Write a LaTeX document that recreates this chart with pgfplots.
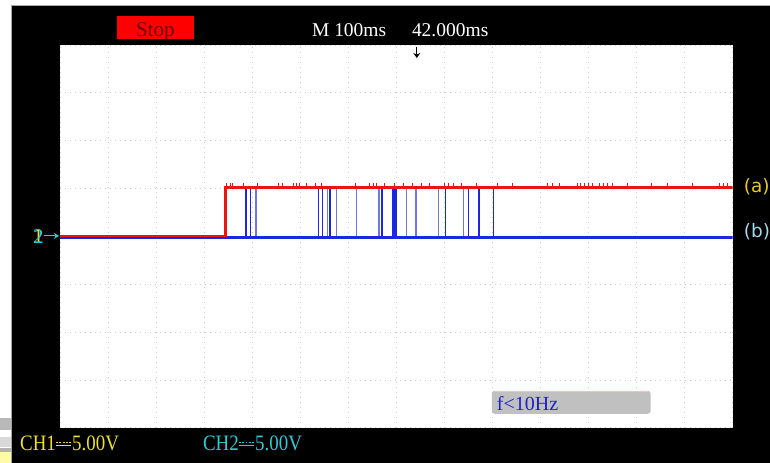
\documentclass[border=0pt]{standalone}
\usepackage{pgfplots}
\pgfplotsset{compat=1.18}
\usepackage{graphicx}
\usepackage{fontspec}
\setmainfont{Liberation Serif}
\newfontfamily\sansf{DejaVu Sans}
\usetikzlibrary{arrows.meta}
\definecolor{scyellow}{RGB}{235,225,40}
\definecolor{sccyan}{RGB}{40,205,215}
\definecolor{labA}{RGB}{235,200,40}
\definecolor{labB}{RGB}{165,215,235}
\definecolor{tracered}{RGB}{235,20,20}
\definecolor{traceblue}{RGB}{25,40,225}
\definecolor{tracebluel}{RGB}{110,120,225}
\definecolor{stopred}{RGB}{255,0,0}
\definecolor{stoptext}{RGB}{100,0,0}
\definecolor{fbox}{RGB}{192,192,192}
\definecolor{ftext}{RGB}{30,30,210}
\newcommand{\dcsym}{\makebox[19pt][l]{\rlap{\rule[4.5pt]{18pt}{1.1pt}}\rule[8pt]{2.2pt}{1.1pt}\hspace{1.7pt}\rule[8pt]{2.2pt}{1.1pt}\hspace{1.7pt}\rule[8pt]{2.2pt}{1.1pt}\hspace{1.7pt}\rule[8pt]{2.2pt}{1.1pt}\hspace{1.7pt}\rule[8pt]{2.2pt}{1.1pt}}}
\begin{document}
\begin{tikzpicture}
\begin{scope}[x=1pt,y=1pt]
\path[use as bounding box] (0,0) rectangle (770,463);
\fill[white] (0,0) rectangle (770,463);
\fill[black] (12,0) rectangle (770,457);
\draw[gray!70, line width=1pt] (12,0) -- (12,457) -- (770,457);
% artefacts at bottom left
\fill[gray!55] (0,33) rectangle (11,45);
\fill[gray!30] (0,16) rectangle (11,26);
\fill[gray!60] (0,11) rectangle (11,15);
\fill[yellow!35] (0,0) rectangle (11,11);
\end{scope}
\begin{axis}[
  at={(60pt,35pt)}, anchor=south west,
  scale only axis, width=673pt, height=383pt,
  xmin=0, xmax=14, ymin=-4, ymax=4,
  xtick={0,...,14}, ytick={-4,...,4},
  xticklabels={}, yticklabels={},
  major tick length=0pt,
  grid=major,
  major grid style={gray!40, line width=0.8pt, dash pattern=on 0.8pt off 4.2pt},
  axis line style={draw=none},
  axis background/.style={fill=white},
]
% CH2 (blue) baseline
\addplot[traceblue, line width=3.2pt] coordinates {(0,-0.03) (14,-0.03)};
% CH2 spikes
\addplot[ycomb, draw=tracebluel, line width=1.1pt, mark=none] coordinates {
(4.08,1.0) (5.57,1.0) (5.76,1.0) (6.17,1.0) (6.64,1.0) (7.22,1.0) (7.41,1.0) (7.88,1.0) (8.39,1.0)};
\addplot[ycomb, draw=traceblue, line width=1.3pt, mark=none] coordinates {
(3.87,1.0) (3.97,1.0) (5.38,1.0) (5.47,1.0) (5.62,1.0) (6.70,1.0)
(6.93,1.05) (6.94,1.05) (6.95,1.05) (6.96,1.05) (6.97,1.05) (6.98,1.05) (6.99,1.05) (7.00,1.05) (7.01,1.05)
(8.02,1.0) (8.50,1.0) (8.72,1.0) (9.02,1.0)};
% CH1 (red)
\addplot[tracered, line width=2.6pt] coordinates {(0,0.01) (3.45,0.01) (3.45,1.02) (14,1.02)};
% CH1 noise ticks
\addplot[only marks, mark=|, mark size=1.5pt, draw=tracered, mark options={line width=0.9pt, draw=tracered}] coordinates {
(3.47,1.08)(3.54,1.08)(3.60,1.08)(3.81,1.08)(4.12,1.08)(4.54,1.08)(4.64,1.08)(4.85,1.08)(4.93,1.08)(4.99,1.08)
(5.14,1.08)(5.31,1.08)(5.45,1.08)(6.14,1.08)(6.45,1.08)(6.53,1.08)(6.59,1.08)(6.76,1.08)(6.97,1.08)(7.14,1.08)
(7.34,1.08)(7.53,1.08)(7.70,1.08)(8.01,1.08)(8.09,1.08)(8.18,1.08)(8.36,1.08)(8.67,1.08)(9.11,1.08)(9.42,1.08)
(10.15,1.08)(10.26,1.08)(10.40,1.08)(10.76,1.08)(10.84,1.08)(10.92,1.08)(11.00,1.08)(11.09,1.08)(11.23,1.08)
(11.32,1.08)(11.40,1.08)(11.50,1.08)(11.82,1.08)(12.32,1.08)(12.65,1.08)(13.17,1.08)(13.73,1.08)(13.81,1.08)(13.90,1.08)};
\end{axis}
\begin{scope}[x=1pt,y=1pt]
% header
\fill[stopred] (117,424) rectangle (194,447);
\node[text=stoptext, font=\fontsize{21}{21}\selectfont, inner sep=0pt, anchor=base] at (155.5,426) {Stop};
\node[text=white, font=\fontsize{19.5}{19.5}\selectfont, inner sep=0pt, anchor=base west] at (312,426) {M 100ms};
\node[text=white, font=\fontsize{19.5}{19.5}\selectfont, inner sep=0pt, anchor=base west] at (412,426) {42.000ms};
\draw[black, line width=1.2pt, -{Stealth[length=5pt,width=7pt]}] (417,416) -- (417,405);
% channel labels right
\node[text=labA, font=\sansf\fontsize{18.5}{18.5}\selectfont, inner sep=0pt, anchor=base west] at (744,270) {(a)};
\node[text=labB, font=\sansf\fontsize{18.5}{18.5}\selectfont, inner sep=0pt, anchor=base west] at (744,225) {(b)};
% ground marker
\node[text=scyellow, font=\fontsize{21}{21}\selectfont, inner sep=0pt, anchor=base west] at (33,219) {1};
\node[text=sccyan, font=\fontsize{21}{21}\selectfont, inner sep=0pt, anchor=base west] at (33,219) {2};
\draw[sccyan, line width=1.2pt, -{Stealth[length=5pt,width=6pt]}] (44,227) -- (59,227);
% frequency box
\fill[fbox, rounded corners=3pt] (492,49) rectangle (651,72);
\draw[red!25, line width=0.6pt] (495,71.6) -- (648,71.6);
\node[text=ftext, font=\fontsize{20}{20}\selectfont, inner sep=0pt, anchor=base west] at (497,52) {f<10Hz};
% bottom channel info
\node[text=scyellow, font=\fontsize{22}{22}\selectfont, inner sep=0pt, anchor=base west] at (20,12) {\scalebox{0.86}[1]{CH1\dcsym5.00V}};
\node[text=sccyan, font=\fontsize{22}{22}\selectfont, inner sep=0pt, anchor=base west] at (203,12) {\scalebox{0.86}[1]{CH2\dcsym5.00V}};
\end{scope}
\end{tikzpicture}
\end{document}
